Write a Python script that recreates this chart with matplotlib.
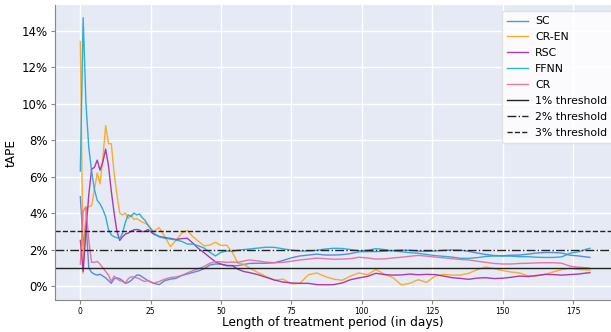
import matplotlib
matplotlib.use("Agg")
import matplotlib.pyplot as plt
from matplotlib.ticker import PercentFormatter

days = list(range(0, 25)) + list(range(26, 61, 2)) + list(range(63, 181, 3)) + [181]

sc = [4.9, 2.2, 3.5, 1.0, 0.75, 0.65, 0.6, 0.65, 0.55, 0.45, 0.3, 0.15, 0.4, 0.45, 0.4, 0.3, 0.15, 0.2, 0.3, 0.45, 0.6, 0.6, 0.5, 0.4, 0.3,
      0.15, 0.08, 0.3, 0.38, 0.42, 0.58, 0.66, 0.75, 0.83, 0.95, 1.15, 1.21, 1.2, 1.13, 1.12, 1.12, 1.18, 1.24,
      1.25, 1.25, 1.28, 1.4, 1.55, 1.65, 1.7, 1.75, 1.7, 1.7, 1.72, 1.78, 1.88, 1.89, 1.89, 1.91, 1.95, 1.97, 1.96, 1.92,
      1.9, 1.92, 1.96, 1.98, 1.97, 1.9, 1.81, 1.73, 1.67, 1.66, 1.69, 1.7, 1.75, 1.81, 1.84, 1.84, 1.81, 1.69, 1.65, 1.59, 1.57]

cr_en = [13.4, 0.7, 4.2, 4.35, 4.4, 5.3, 6.2, 5.6, 7.0, 8.8, 7.8, 7.8, 6.2, 5.0, 4.0, 3.9, 4.0, 3.7, 3.9, 3.65, 3.7, 3.6, 3.5, 3.45, 3.35,
         3.0, 3.2, 2.71, 2.16, 2.5, 2.9, 3.05, 2.7, 2.45, 2.2, 2.25, 2.4, 2.22, 2.24, 1.85, 1.25, 1.2, 1.0,
         0.75, 0.52, 0.32, 0.38, 0.12, 0.15, 0.62, 0.72, 0.52, 0.38, 0.32, 0.55, 0.72, 0.62, 0.91, 0.65, 0.47, 0.07, 0.15, 0.35,
         0.2, 0.55, 0.64, 0.6, 0.6, 0.7, 0.9, 1.05, 0.96, 0.85, 0.77, 0.72, 0.56, 0.55, 0.63, 0.78, 0.9, 0.97, 0.91, 0.88, 0.88]

rsc = [2.5, 0.8, 3.0, 5.0, 6.4, 6.5, 6.9, 6.35, 6.8, 7.5, 6.6, 5.2, 4.0, 3.0, 2.5, 2.7, 2.85, 2.9, 3.0, 3.08, 3.1, 3.07, 2.98, 3.0, 3.1,
       2.85, 2.72, 2.66, 2.61, 2.55, 2.6, 2.62, 2.35, 2.05, 1.82, 1.57, 1.33, 1.2, 1.12, 1.12, 0.92, 0.8, 0.74,
       0.63, 0.48, 0.33, 0.22, 0.17, 0.15, 0.15, 0.08, 0.07, 0.08, 0.17, 0.35, 0.45, 0.53, 0.7, 0.63, 0.6, 0.61, 0.66, 0.62,
       0.64, 0.63, 0.55, 0.46, 0.42, 0.37, 0.44, 0.46, 0.41, 0.43, 0.48, 0.55, 0.52, 0.58, 0.64, 0.63, 0.6, 0.63, 0.66, 0.72, 0.73]

ffnn = [6.3, 14.7, 10.0, 7.6, 6.3, 5.3, 4.7, 4.5, 4.2, 3.8, 3.1, 2.8, 2.7, 2.65, 2.6, 2.9, 3.5, 3.9, 3.8, 4.0, 3.9, 3.95, 3.75, 3.6, 3.35,
        2.9, 2.7, 2.62, 2.58, 2.52, 2.45, 2.3, 2.3, 2.2, 2.08, 1.85, 1.65, 1.85, 1.92, 1.9, 1.97, 2.0, 2.03,
        2.08, 2.13, 2.12, 2.04, 1.97, 1.92, 1.92, 1.96, 2.03, 2.07, 2.06, 2.0, 1.93, 1.96, 2.05, 2.0, 1.93, 1.88, 1.83, 1.8,
        1.73, 1.67, 1.63, 1.59, 1.52, 1.52, 1.56, 1.62, 1.65, 1.65, 1.64, 1.61, 1.61, 1.58, 1.57, 1.57, 1.6, 1.8, 1.88, 2.03, 2.07]

cr = [1.2, 4.1, 4.35, 2.5, 1.3, 1.3, 1.35, 1.2, 1.0, 0.8, 0.6, 0.25, 0.55, 0.4, 0.3, 0.25, 0.15, 0.4, 0.5, 0.5, 0.45, 0.4, 0.3, 0.25, 0.3,
      0.15, 0.25, 0.38, 0.47, 0.5, 0.58, 0.72, 0.85, 0.95, 1.08, 1.25, 1.34, 1.33, 1.3, 1.32, 1.3, 1.37, 1.43,
      1.38, 1.31, 1.28, 1.3, 1.36, 1.43, 1.48, 1.53, 1.5, 1.47, 1.48, 1.5, 1.58, 1.54, 1.48, 1.49, 1.54, 1.58, 1.63, 1.68,
      1.64, 1.59, 1.55, 1.5, 1.46, 1.43, 1.36, 1.3, 1.24, 1.21, 1.21, 1.24, 1.25, 1.27, 1.28, 1.28, 1.25, 1.09, 1.03, 1.0, 0.97]

series_names = ["SC", "CR-EN", "RSC", "FFNN", "CR"]
series_values = [sc, cr_en, rsc, ffnn, cr]
series_colors = ["#4a7fe0", "#ffa31a", "#a526a8", "#1aa7d6", "#e8689a"]

thresholds = [1, 2, 3]
threshold_labels = ["1% threshold", "2% threshold", "3% threshold"]
threshold_styles = ["-", "-.", "--"]

fig = plt.figure(figsize=(6.11, 3.32), dpi=100)
ax = fig.add_axes([0.09, 0.096, 0.91, 0.889])
ax.set_facecolor("#e5eaf5")
ax.grid(True, color="white", linewidth=1.0)
ax.set_axisbelow(True)

for name, vals, col in zip(series_names, series_values, series_colors):
    ax.plot(days, vals, color=col, linewidth=1.0, label=name, alpha=0.9)

for t, lab, ls in zip(thresholds, threshold_labels, threshold_styles):
    ax.axhline(t, color="#222222", linestyle=ls, linewidth=1.0, label=lab)

ax.set_xlim(-9, 188.5)
ax.set_ylim(-0.77, 15.4)
ax.set_xticks([0, 25, 50, 75, 100, 125, 150, 175])
ax.set_yticks([0, 2, 4, 6, 8, 10, 12, 14])
ax.yaxis.set_major_formatter(PercentFormatter(decimals=0))
ax.tick_params(axis="x", labelsize=5.5, length=3, color="#888888", pad=2)
ax.tick_params(axis="y", labelsize=8.5, length=3, color="#888888", pad=2)
for s in ["top", "right"]:
    ax.spines[s].set_visible(False)
for s in ["left", "bottom"]:
    ax.spines[s].set_color("#888888")
ax.set_xlabel("Length of treatment period (in days)", fontsize=8.7, labelpad=0)
ax.set_ylabel("tAPE", fontsize=8.7, labelpad=3)

leg = ax.legend(loc="upper right", bbox_to_anchor=(1.003, 0.98), fontsize=7.8, frameon=True,
                framealpha=0.85, borderaxespad=0.0, handlelength=1.9, handletextpad=0.7,
                labelspacing=0.55, borderpad=0.5)
leg.get_frame().set_facecolor("white")
leg.get_frame().set_edgecolor("#dddddd")

fig.savefig("out.png", dpi=100)
